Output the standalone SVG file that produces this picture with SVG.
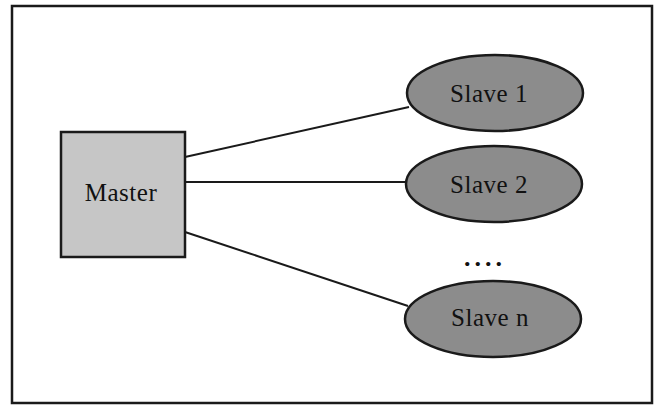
<svg xmlns="http://www.w3.org/2000/svg" width="658" height="409" viewBox="0 0 658 409">
  <style>
    .frame { fill: #ffffff; stroke: #1a1a1a; stroke-width: 2.5; }
    .master { fill: #c6c6c6; stroke: #1a1a1a; stroke-width: 2.5; }
    .slave { fill: #8c8c8c; stroke: #1a1a1a; stroke-width: 2.5; }
    .link { stroke: #1a1a1a; stroke-width: 2; fill: none; }
    .label { font-family: "Liberation Serif", "Times New Roman", serif; font-size: 25px; fill: #111111; text-anchor: middle; letter-spacing: 0.5px; }
    .dots { font-family: "Liberation Serif", "Times New Roman", serif; font-size: 26px; font-weight: bold; fill: #111111; letter-spacing: 4px; }
  </style>
  <rect x="0" y="0" width="658" height="409" fill="#ffffff"/>
  <rect class="frame" x="12" y="6" width="640" height="397"/>
  <g id="connectors">
    <line class="link" x1="185" y1="157" x2="409" y2="107"/>
    <line class="link" x1="185" y1="182" x2="406" y2="182"/>
    <line class="link" x1="185" y1="232" x2="408" y2="306"/>
  </g>
  <g id="master">
    <rect class="master" x="61" y="132" width="124" height="125"/>
    <text class="label" x="121" y="201">Master</text>
  </g>
  <g id="slave1">
    <ellipse class="slave" cx="495" cy="93" rx="88" ry="38"/>
    <text class="label" x="489" y="102">Slave 1</text>
  </g>
  <g id="slave2">
    <ellipse class="slave" cx="494" cy="184" rx="88" ry="38"/>
    <text class="label" x="489" y="193">Slave 2</text>
  </g>
  <g id="ellipsis">
    <text class="dots" x="464" y="266">....</text>
  </g>
  <g id="slaven">
    <ellipse class="slave" cx="493" cy="319" rx="88" ry="38"/>
    <text class="label" x="490" y="326">Slave  n</text>
  </g>
</svg>
